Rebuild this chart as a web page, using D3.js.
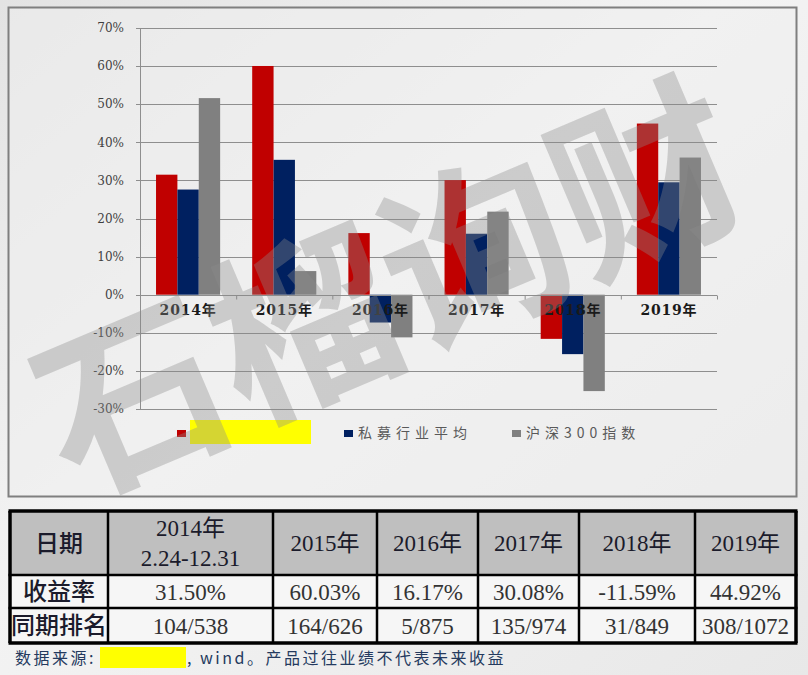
<!DOCTYPE html>
<html>
<head>
<meta charset="utf-8">
<script src="https://cdn.jsdelivr.net/npm/d3@7"></script>
<style>
    body { margin: 0; background: #ececec; }
    #wrapper svg { display: block; }
</style>
</head>
<body>
<div id="wrapper"></div>
<script>
// chart data
const years = ["2014年", "2015年", "2016年", "2017年", "2018年", "2019年"];
const seriesKeys = ["product", "industry", "csi300"];
const legendLabels = ["", "私募行业平均", "沪深300指数"];
const productReturns = [31.50, 60.03, 16.17, 30.08, -11.59, 44.92];
const industryAvg = [27.6, 35.4, -7.3, 16.0, -15.6, 29.5];
const csi300 = [51.6, 6.2, -11.2, 21.8, -25.3, 36.0];
const yTicks = [-30, -20, -10, 0, 10, 20, 30, 40, 50, 60, 70];

// table data
const tableHeader = ["日期", "2014年\n2.24-12.31", "2015年", "2016年", "2017年", "2018年", "2019年"];
const returnRow = ["收益率", "31.50%", "60.03%", "16.17%", "30.08%", "-11.59%", "44.92%"];
const rankRow = ["同期排名", "104/538", "164/626", "5/875", "135/974", "31/849", "308/1072"];

function draw() {
    const seriesValues = [productReturns, industryAvg, csi300];
    const colors = ["#c00000", "#002060", "#808080"];

    // 1. dimensions
    const dimensions = {
        width: 808,
        height: 675,
        plot: { left: 140, right: 717, top: 28, bottom: 409 },
    };

    const wrapper = d3.select("#wrapper")
        .append("svg")
        .attr("width", dimensions.width)
        .attr("height", dimensions.height);

    const defs = wrapper.append("defs");
    const bg = defs.append("linearGradient")
        .attr("id", "bg-gradient")
        .attr("x1", "0%").attr("y1", "0%")
        .attr("x2", "100%").attr("y2", "100%");
    bg.append("stop").attr("offset", "0%").attr("stop-color", "#e3e3e3");
    bg.append("stop").attr("offset", "45%").attr("stop-color", "#f3f3f3");
    bg.append("stop").attr("offset", "100%").attr("stop-color", "#e8e8e8");

    wrapper.append("rect")
        .attr("width", dimensions.width)
        .attr("height", dimensions.height)
        .attr("fill", "url(#bg-gradient)");

    // chart frame
    wrapper.append("rect")
        .attr("x", 8.5).attr("y", 7.5)
        .attr("width", 788).attr("height", 489)
        .attr("fill", "#efefef")
        .attr("fill-opacity", 0.55)
        .attr("stroke", "#7f7f7f")
        .attr("stroke-width", 2);

    // 2. scales
    const p = dimensions.plot;
    const yScale = d3.scaleLinear().domain([-30, 70]).range([p.bottom, p.top]);
    const xScale = d3.scaleBand().domain(years).range([p.left, p.right]);
    const bw = xScale.bandwidth();
    const xInner = d3.scaleBand().domain(seriesKeys).range([bw / 6, bw * 5 / 6]);

    // 3. gridlines + axes
    const grid = wrapper.append("g");
    grid.selectAll("line")
        .data(yTicks)
        .join("line")
        .attr("x1", p.left).attr("x2", p.right)
        .attr("y1", d => Math.round(yScale(d)) + 0.5)
        .attr("y2", d => Math.round(yScale(d)) + 0.5)
        .attr("stroke", "#8e8e8e")
        .attr("stroke-width", 1);

    grid.append("line")
        .attr("x1", p.left + 0.5).attr("x2", p.left + 0.5)
        .attr("y1", p.top).attr("y2", p.bottom)
        .attr("stroke", "#8e8e8e");

    grid.selectAll(".ytick")
        .data(yTicks)
        .join("line")
        .attr("x1", p.left - 4).attr("x2", p.left)
        .attr("y1", d => Math.round(yScale(d)) + 0.5)
        .attr("y2", d => Math.round(yScale(d)) + 0.5)
        .attr("stroke", "#8e8e8e");

    wrapper.append("g").selectAll("text")
        .data(yTicks)
        .join("text")
        .attr("x", p.left - 16)
        .attr("y", d => yScale(d))
        .attr("dy", "0.35em")
        .attr("text-anchor", "end")
        .style("font-family", "'DejaVu Serif', serif")
        .style("font-size", "12px")
        .attr("fill", "#3f3f3f")
        .text(d => `${d}%`);

    // 4. bars
    const bars = wrapper.append("g");
    seriesKeys.forEach((key, si) => {
        bars.append("g")
            .selectAll("rect")
            .data(years.map((y, i) => ({ year: y, value: seriesValues[si][i] })))
            .join("rect")
            .attr("x", d => xScale(d.year) + xInner(key))
            .attr("width", xInner.bandwidth())
            .attr("y", d => yScale(Math.max(0, d.value)))
            .attr("height", d => Math.abs(yScale(d.value) - yScale(0)))
            .attr("fill", colors[si]);
    });

    // x axis at zero with tick marks at band edges
    const zeroY = Math.round(yScale(0)) + 0.5;
    const xAxis = wrapper.append("g");
    xAxis.append("line")
        .attr("x1", p.left).attr("x2", p.right)
        .attr("y1", zeroY).attr("y2", zeroY)
        .attr("stroke", "#8e8e8e");
    xAxis.selectAll(".tick")
        .data(years.concat(["end"]))
        .join("line")
        .attr("x1", d => (d === "end" ? p.right : xScale(d)) + 0.5)
        .attr("x2", d => (d === "end" ? p.right : xScale(d)) + 0.5)
        .attr("y1", zeroY).attr("y2", zeroY + 4)
        .attr("stroke", "#8e8e8e");
    xAxis.selectAll("text")
        .data(years)
        .join("text")
        .attr("x", d => xScale(d) + bw / 2)
        .attr("y", zeroY + 19)
        .attr("text-anchor", "middle")
        .style("font-family", "'DejaVu Serif', 'Noto Sans CJK SC', serif")
        .style("font-size", "14px")
        .style("font-weight", "bold")
        .style("letter-spacing", "0.8px")
        .attr("fill", "#1a1a1a")
        .text(d => d);

    // 5. legend
    const legendItems = [
        { x: 177, color: colors[0], label: legendLabels[0] },
        { x: 344, color: colors[1], label: legendLabels[1] },
        { x: 512, color: colors[2], label: legendLabels[2] },
    ];
    const legend = wrapper.append("g").attr("transform", "translate(0,433)");
    legend.selectAll("rect")
        .data(legendItems)
        .join("rect")
        .attr("x", d => d.x)
        .attr("y", -3)
        .attr("width", 9)
        .attr("height", 7)
        .attr("fill", d => d.color);
    legend.selectAll("text")
        .data(legendItems)
        .join("text")
        .attr("x", d => d.x + 14)
        .attr("y", 0)
        .attr("dy", "0.35em")
        .style("font-family", "'Noto Sans CJK SC', sans-serif")
        .style("font-size", "14px")
        .style("letter-spacing", "5px")
        .attr("fill", "#595959")
        .text(d => d.label);
    // redacted label
    legend.append("rect")
        .attr("x", 190).attr("y", -13)
        .attr("width", 121).attr("height", 24)
        .attr("fill", "#ffff00");

    // watermark
    wrapper.append("text")
        .attr("transform", "translate(390,290) rotate(-23)")
        .attr("text-anchor", "middle")
        .attr("dy", "0.36em")
        .style("font-family", "'Noto Sans CJK SC', sans-serif")
        .style("font-size", "186px")
        .style("font-weight", 700)
        .attr("fill", "#8a8a8a")
        .attr("fill-opacity", 0.36)
        .text("石榴询财");

    // 6. table
    const colX = [10, 108, 273, 377, 478, 579, 695, 796];
    const rowY = [511, 575, 608, 643];
    const rows = [tableHeader, returnRow, rankRow];
    const table = wrapper.append("g");

    rows.forEach((row, ri) => {
        table.append("rect")
            .attr("x", colX[0]).attr("y", rowY[ri])
            .attr("width", colX[7] - colX[0])
            .attr("height", rowY[ri + 1] - rowY[ri])
            .attr("fill", ri === 0 ? "#bfbfbf" : "#f6f6f6");

        row.forEach((cell, ci) => {
            const cx = (colX[ci] + colX[ci + 1]) / 2;
            const cy = (rowY[ri] + rowY[ri + 1]) / 2;
            const lines = cell.split("\n");
            const isLabel = ci === 0;
            table.append("text")
                .attr("x", cx)
                .attr("y", cy - (lines.length - 1) * 15)
                .attr("text-anchor", "middle")
                .style("font-family", isLabel
                    ? "'Noto Sans CJK SC', sans-serif"
                    : "'Liberation Serif', 'Noto Sans CJK SC', serif")
                .style("font-size", isLabel ? "24px" : "23px")
                .style("font-weight", isLabel ? 500 : 400)
                .attr("fill", ri === 0 || isLabel ? "#1b1b2b" : "#333333")
                .selectAll("tspan")
                .data(lines)
                .join("tspan")
                .attr("x", cx)
                .attr("dy", (d, i) => i === 0 ? "0.36em" : "30px")
                .text(d => d);
        });
    });

    // table borders
    table.selectAll(".vline")
        .data(colX)
        .join("line")
        .attr("x1", d => d).attr("x2", d => d)
        .attr("y1", rowY[0]).attr("y2", rowY[3])
        .attr("stroke", "#000")
        .attr("stroke-width", (d, i) => (i === 0 || i === colX.length - 1) ? 3.5 : 2.5);
    table.selectAll(".hline")
        .data(rowY)
        .join("line")
        .attr("x1", colX[0] - 1.5).attr("x2", colX[7] + 1.5)
        .attr("y1", d => d).attr("y2", d => d)
        .attr("stroke", "#000")
        .attr("stroke-width", (d, i) => (i === 0 || i === rowY.length - 1) ? 3.5 : 2.5);

    // 7. footnote
    const foot = wrapper.append("g")
        .style("font-family", "'Noto Sans CJK SC', sans-serif")
        .style("font-size", "16px")
        .style("letter-spacing", "2.5px")
        .attr("fill", "#243a5e");
    foot.append("text").attr("x", 15).attr("y", 664).text("数据来源:");
    foot.append("rect")
        .attr("x", 100).attr("y", 647)
        .attr("width", 86).attr("height", 21)
        .attr("fill", "#ffff00");
    foot.append("text").attr("x", 187).attr("y", 664).text(", wind。产品过往业绩不代表未来收益");
}

draw();
</script>
</body>
</html>
